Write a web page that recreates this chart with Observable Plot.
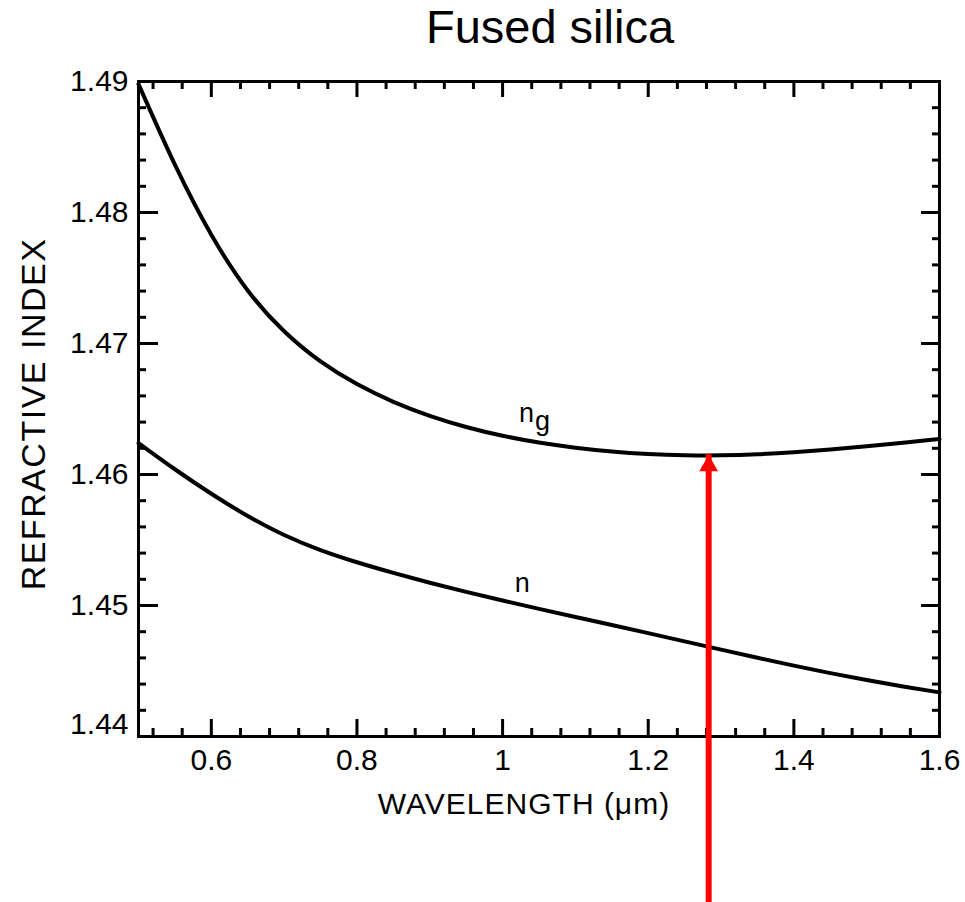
<!DOCTYPE html>
<html><head><meta charset="utf-8">
<script src="https://cdn.jsdelivr.net/npm/d3@7"></script>
<script src="https://cdn.jsdelivr.net/npm/@observablehq/plot@0.6"></script>
<style>html,body{margin:0;padding:0;background:#fff}#chart svg{display:block}</style>
</head><body><div id="chart"></div>
<script>
// Group index n_g of fused silica
const wavelengthNg = [0.5, 0.55, 0.6, 0.65, 0.7, 0.75, 0.8, 0.85, 0.9, 0.95, 1.0, 1.05, 1.1, 1.15, 1.2, 1.25, 1.3, 1.35, 1.4, 1.45, 1.5, 1.55, 1.6];
const groupIndex   = [1.4898, 1.48365, 1.4783, 1.47405, 1.47093, 1.46863, 1.4669, 1.46555, 1.46448, 1.46363, 1.46296, 1.46244, 1.46205, 1.46176, 1.46157, 1.46147, 1.46146, 1.46154, 1.4617, 1.46191, 1.46216, 1.46243, 1.46271];
// Phase index n
const wavelengthN = [0.5, 0.55, 0.6, 0.65, 0.7, 0.75, 0.8, 0.85, 0.9, 0.95, 1.0, 1.05, 1.1, 1.15, 1.2, 1.25, 1.3, 1.35, 1.4, 1.45, 1.5, 1.55, 1.6];
const phaseIndex  = [1.4624, 1.4604, 1.45853, 1.45683, 1.45538, 1.45423, 1.4533, 1.45249, 1.45174, 1.45104, 1.45038, 1.44974, 1.44912, 1.44851, 1.44789, 1.44726, 1.44663, 1.44601, 1.44541, 1.44484, 1.44431, 1.44382, 1.44337];

// Curve labels
const labelText = ["n", "n"];
const labelX = [1.033, 1.027];
const labelY = [1.4647, 1.4517];
const subscriptText = ["g"];

// Arrow marking the minimum of n_g
const arrowX = [1.283];
const arrowFrom = [1.4275];
const arrowTo = [1.4615];

// Ticks
const xMajor = [0.6, 0.8, 1, 1.2, 1.4, 1.6];
const xMinor = [0.52, 0.56, 0.64, 0.68, 0.72, 0.76, 0.84, 0.88, 0.92, 0.96, 1.04, 1.08, 1.12, 1.16, 1.24, 1.28, 1.32, 1.36, 1.44, 1.48, 1.52, 1.56];
const yMajor = [1.44, 1.45, 1.46, 1.47, 1.48, 1.49];
const yMinor = [1.442, 1.444, 1.446, 1.448, 1.452, 1.454, 1.456, 1.458, 1.462, 1.464, 1.466, 1.468, 1.472, 1.474, 1.476, 1.478, 1.482, 1.484, 1.486, 1.488];
const yLabelsUpper = [1.45, 1.46, 1.47, 1.48, 1.49];
const yLabelsLower = [1.44];

const title = "Fused silica";
const xLabel = "WAVELENGTH (\u03bcm)";
const yLabel = "REFRACTIVE INDEX";

const ngData = wavelengthNg.map((w, i) => ({w, v: groupIndex[i]}));
const nData = wavelengthN.map((w, i) => ({w, v: phaseIndex[i]}));
const arrowData = arrowX.map((x, i) => ({x, y1: arrowFrom[i], y2: arrowTo[i]}));

const W = 965, H = 902, ML = 138, MR = 26, MT = 81, MB = 166;
const FW = W - ML - MR, FH = H - MT - MB;
const tk = {stroke: "black", strokeWidth: 3};
const labelFont = 30;

// inward ticks drawn as short tick marks hugging each side of the frame
const tickBottom = (vals, L) => Plot.tickX(vals, {x: d => d, insetTop: FH - L, ...tk});
const tickTop = (vals, L) => Plot.tickX(vals, {x: d => d, insetBottom: FH - L, ...tk});
const tickLeft = (vals, L) => Plot.tickY(vals, {y: d => d, insetRight: FW - L, ...tk});
const tickRight = (vals, L) => Plot.tickY(vals, {y: d => d, insetLeft: FW - L, ...tk});

const chart = Plot.plot({
  width: W,
  height: H,
  marginLeft: ML,
  marginRight: MR,
  marginTop: MT,
  marginBottom: MB,
  x: {domain: [0.5, 1.6], axis: null},
  y: {domain: [1.44, 1.49], axis: null},
  style: {fontFamily: "'Liberation Sans', Arial, sans-serif", background: "white", color: "black", overflow: "visible"},
  marks: [
    tickBottom(xMajor, 17),
    tickBottom(xMinor, 8),
    tickTop(xMajor, 16),
    tickTop(xMinor, 8),
    tickLeft(yMajor, 20),
    tickLeft(yMinor, 8),
    tickRight(yMajor, 18),
    tickRight(yMinor, 7),
    Plot.frame({stroke: "black", strokeWidth: 3}),
    // tick labels
    Plot.axisX(xMajor, {anchor: "bottom", tickSize: 0, tickPadding: 12, fontSize: labelFont, tickFormat: d => String(d), label: null, fill: "black"}),
    Plot.axisY(yLabelsUpper, {anchor: "left", tickSize: 0, tickPadding: 10, fontSize: labelFont, tickFormat: d => d.toFixed(2), label: null, fill: "black"}),
    Plot.axisY(yLabelsLower, {anchor: "left", tickSize: 0, tickPadding: 10, fontSize: labelFont, tickFormat: d => d.toFixed(2), label: null, fill: "black", dy: -12}),
    // curves
    Plot.line(ngData, {x: "w", y: "v", stroke: "black", strokeWidth: 4, curve: "natural"}),
    Plot.line(nData, {x: "w", y: "v", stroke: "black", strokeWidth: 4, curve: "natural"}),
    // curve labels
    Plot.text(labelText, {x: (d, i) => labelX[i], y: (d, i) => labelY[i], text: d => d, fontSize: 27, lineAnchor: "middle", fill: "black"}),
    Plot.text(subscriptText, {x: () => labelX[0], y: () => labelY[0], text: d => d, fontSize: 27, lineAnchor: "middle", dx: 16, dy: 8, fill: "black"}),
    // axis titles
    Plot.text([xLabel], {frameAnchor: "bottom", text: d => d, textAnchor: "middle", dx: -15, dy: 68, lineAnchor: "middle", fontSize: 30, fill: "black"}),
    Plot.text([yLabel], {frameAnchor: "left", text: d => d, textAnchor: "middle", dx: -104, dy: 5, rotate: -90, lineAnchor: "middle", fontSize: 34, fill: "black"}),
    Plot.text([title], {frameAnchor: "top", text: d => d, textAnchor: "middle", dx: 11, dy: -54, lineAnchor: "middle", fontSize: 47, fill: "black"}),
    // red arrow
    Plot.ruleX(arrowData, {x: "x", y1: "y1", y2: "y2", stroke: "#ff0000", strokeWidth: 6, insetTop: 14}),
    Plot.dot(arrowData, {x: "x", y: "y2", symbol: "triangle", r: 7, fill: "#ff0000", stroke: "none", dy: 11})
  ]
});

document.getElementById("chart").appendChild(chart);
d3.select(chart).selectAll("text").filter(function() { return this.textContent === yLabel; }).style("letter-spacing", "1.5px");
d3.select(chart).selectAll("text").filter(function() { return this.textContent === xLabel; }).style("letter-spacing", "1px");
</script></body></html>
